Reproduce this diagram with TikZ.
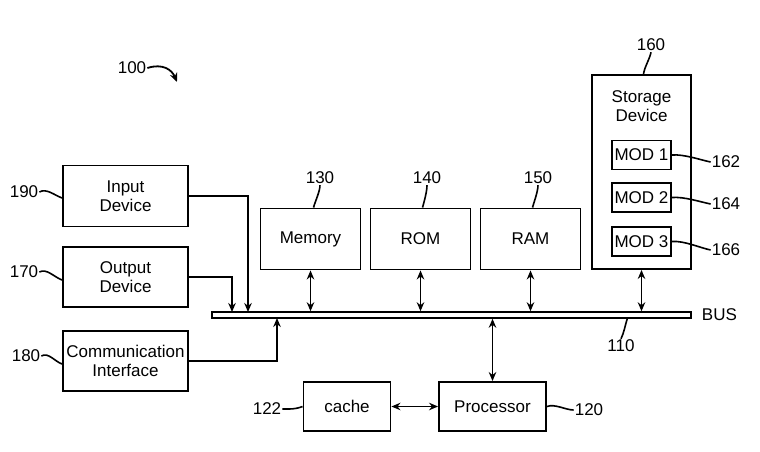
\documentclass[tikz,border=0pt]{standalone}
\usepackage{fontspec}
\setmainfont{Liberation Sans}
\usetikzlibrary{arrows.meta,positioning,calc}
\tikzset{
  box/.style={draw, line width=1.9pt, fill=white, align=center, inner sep=0pt},
  modbox/.style={draw, line width=1.9pt, minimum width=59, minimum height=29, inner sep=0pt},
  busbar/.style={draw, line width=1.5pt, fill=white, minimum height=6, inner sep=0pt},
  lbl/.style={inner sep=1pt},
  lead/.style={line width=1.6pt},
  link/.style={line width=1.8pt, -{Stealth[length=9pt,width=7.5pt]}},
  biarrow/.style={line width=1.8pt, {Stealth[length=9pt,width=7.5pt]}-{Stealth[length=9pt,width=7.5pt]}}
}

\begin{document}
\begin{tikzpicture}[x=1pt,y=-1pt,font=\fontsize{17}{19}\selectfont]
  \useasboundingbox[fill=white] (0,0) rectangle (760,452);
  % System reference
  \node[lbl] (l100) at (132,68) {100};
  \draw[link] (l100.east) .. controls (163,63) and (172,70) .. (177,82);
  % Bus
  \node[busbar, minimum width=479] (bus) at (451.5,315) {};
  \node[lbl, right=9pt of bus.east] (lbus) {BUS};
  \node[lbl] (l110) at (621,346) {110};
  \draw[lead] ($(bus.south west)+(416,0)$) .. controls +(-2,6) and +(3,-6) .. (l110.north);
  % Left column: input, output, communication
  \node[box, minimum width=125, minimum height=61] (in) at (125.5,196) {Input\\Device};
  \node[box, minimum width=125, minimum height=60] (out) at (125.5,277) {Output\\Device};
  \node[box, minimum width=125, minimum height=60] (comm) at (125.5,361) {Communication\\Interface};
  \node[lbl] (l190) at (24,192) {190};
  \node[lbl] (l170) at (24,272) {170};
  \node[lbl] (l180) at (26,356) {180};
  \draw[lead] (l190.east) .. controls +(7,-4) and +(-8,-3) .. ($(in.west)+(0,2)$);
  \draw[lead] (l170.east) .. controls +(7,-4) and +(-8,-3) .. ($(out.west)+(0,3)$);
  \draw[lead] (l180.east) .. controls +(7,-4) and +(-8,-3) .. ($(comm.west)+(0,3)$);
  \coordinate (inbus) at (248,312);
  \coordinate (outbus) at (232,312);
  \coordinate (commbus) at (277,318);
  \draw[link] (in.east) -| (inbus);
  \draw[link] (out.east) -| (outbus);
  \draw[link] (comm.east) -| (commbus);
  % Memory, ROM, RAM
  \node[box, minimum width=100, minimum height=61] (mem) at (310.5,239) {Memory};
  \node[box, minimum width=100, minimum height=61] (rom) at (420.5,239) {ROM};
  \node[box, minimum width=100, minimum height=61] (ram) at (530.5,239) {RAM};
  \node[lbl] (l130) at (320,178) {130};
  \node[lbl] (l140) at (427,178) {140};
  \node[lbl] (l150) at (538,178) {150};
  \draw[lead] (l130.south) .. controls +(0,6) and +(2,-7) .. ($(mem.north)+(3,0)$);
  \draw[lead] (l140.south) .. controls +(0,6) and +(2,-7) .. ($(rom.north)+(2,0)$);
  \draw[lead] (l150.south) .. controls +(0,6) and +(2,-7) .. ($(ram.north)+(2,0)$);
  \draw[biarrow] (mem.south) -- (mem.south |- bus.north);
  \draw[biarrow] (rom.south) -- (rom.south |- bus.north);
  \draw[biarrow] (ram.south) -- (ram.south |- bus.north);
  % Storage device with modules
  \node[box, minimum width=99, minimum height=194] (store) at (641.5,172) {};
  \node[align=center] (stxt) at (641.5,106) {Storage\\Device};
  \node[modbox] (mod1) at (641.5,155) {MOD 1};
  \node[modbox] (mod2) at (641.5,197.5) {MOD 2};
  \node[modbox] (mod3) at (641.5,241.5) {MOD 3};
  \node[lbl] (l160) at (651,45) {160};
  \node[lbl] (l162) at (726,162) {162};
  \node[lbl] (l164) at (726,204) {164};
  \node[lbl] (l166) at (726,250) {166};
  \draw[lead] (l160.south) .. controls +(-1,6) and +(1,-7) .. ($(store.north)+(2,0)$);
  \draw[lead] (mod1.east) .. controls +(12,-1) and +(-10,-2) .. (l162.west);
  \draw[lead] (mod2.east) .. controls +(12,-1) and +(-10,-2) .. (l164.west);
  \draw[lead] (mod3.east) .. controls +(12,-1) and +(-10,-2) .. (l166.west);
  \draw[biarrow] (store.south) -- (store.south |- bus.north);
  % Processor and cache
  \node[box, minimum width=107, minimum height=49] (proc) at (492.5,406.5) {Processor};
  \node[box, minimum width=87, minimum height=49] (cache) at (347,406.5) {cache};
  \node[lbl] (l120) at (589,410) {120};
  \node[lbl] (l122) at (267,409) {122};
  \draw[lead] (proc.east) .. controls +(8,-3) and +(-8,0) .. (l120.west);
  \draw[lead] (l122.east) .. controls +(8,0) and +(-8,3) .. (cache.west);
  \draw[biarrow] (proc.north) -- (proc.north |- bus.south);
  \draw[biarrow] (cache.east) -- (proc.west);
\end{tikzpicture}
\end{document}
